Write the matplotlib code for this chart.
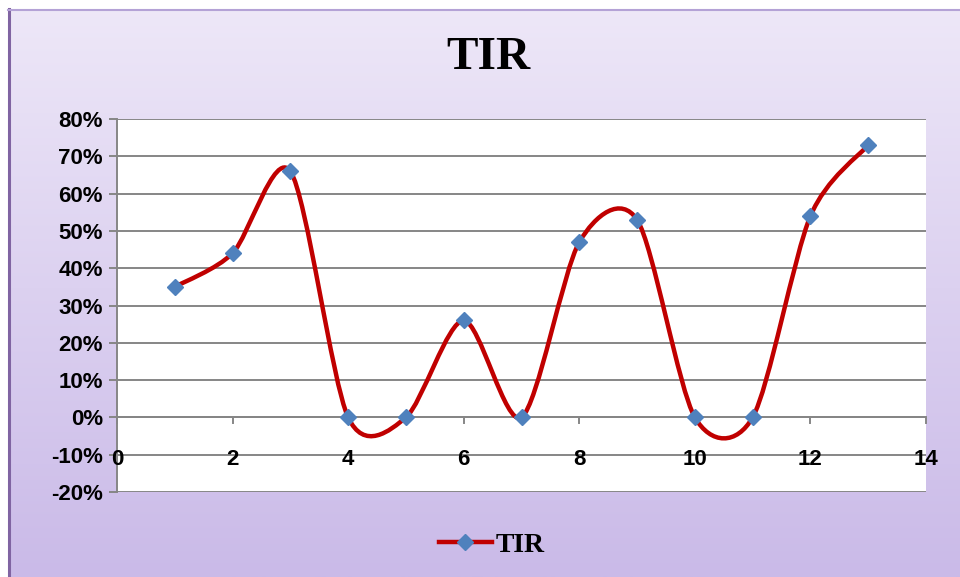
import numpy as np
import matplotlib
matplotlib.use("Agg")
import matplotlib.pyplot as plt
from matplotlib.path import Path
from matplotlib.patches import PathPatch, Rectangle
from matplotlib.lines import Line2D
from matplotlib.ticker import FuncFormatter

# --- data ---
periods = [1, 2, 3, 4, 5, 6, 7, 8, 9, 10, 11, 12, 13]
tir = [0.35, 0.44, 0.66, 0.00, 0.00, 0.26, 0.00, 0.47, 0.53, 0.00, 0.00, 0.54, 0.73]
series_name = "TIR"
chart_title = "TIR"
x_ticks = [0, 2, 4, 6, 8, 10, 12, 14]
y_ticks = [-0.2, -0.1, 0.0, 0.1, 0.2, 0.3, 0.4, 0.5, 0.6, 0.7, 0.8]

line_red = "#C00000"
marker_blue = "#4F81BD"
grid_gray = "#868686"

fig = plt.figure(figsize=(9.6, 5.77), dpi=100)

# --- gradient background with a purple frame ---
bg = fig.add_axes([0, 0, 1, 1], zorder=-10)
grad = np.linspace(0, 1, 256).reshape(-1, 1)
top = np.array([238, 232, 248]) / 255
bot = np.array([202, 186, 232]) / 255
img = top + (bot - top) * grad[:, :, None]
bg.imshow(img, aspect="auto", extent=[0, 1, 0, 1], origin="upper")
bg.add_patch(Rectangle((0, 0), 8 / 960, 1, color="white", zorder=2))
bg.add_patch(Rectangle((0, 1 - 9 / 577), 1, 9 / 577, color="white", zorder=2))
bg.plot([8.5 / 960, 8.5 / 960], [0, 1 - 9 / 577], color="#8064A2", lw=2.2, zorder=3)
bg.plot([8 / 960, 1], [1 - 9.5 / 577, 1 - 9.5 / 577], color="#B4A2D6", lw=1.5, zorder=3)
bg.set_xlim(0, 1)
bg.set_ylim(0, 1)
bg.axis("off")

# --- plot area ---
ax = fig.add_axes([117 / 960, 85 / 577, 809 / 960, 373 / 577])
ax.set_facecolor("white")
ax.set_xlim(0, 14)
ax.set_ylim(-0.2, 0.8)
ax.set_yticks(y_ticks)
ax.set_xticks(x_ticks)
ax.yaxis.set_major_formatter(FuncFormatter(lambda v, p: f"{round(v * 100):d}%"))
ax.grid(axis="y", color=grid_gray, lw=1.4)
ax.set_axisbelow(True)

for s in ["top", "right", "bottom"]:
    ax.spines[s].set_visible(False)
ax.spines["left"].set_color(grid_gray)
ax.spines["left"].set_linewidth(1.4)
ax.axhline(0, color=grid_gray, lw=1.4, zorder=1)

ax.tick_params(axis="y", length=6, width=1.4, color=grid_gray, pad=4)
ax.tick_params(axis="x", length=0, pad=0)
for lab in ax.get_yticklabels():
    lab.set_fontfamily("Liberation Sans")
    lab.set_fontweight("bold")
    lab.set_fontsize(16)
ax.set_xticklabels([])

# x tick marks below the zero line and labels further down (Excel style)
for xv in x_ticks:
    ax.plot([xv, xv], [0, -0.016], color=grid_gray, lw=1.4, clip_on=False, zorder=1)
    ax.text(xv, -0.113, str(xv), ha="center", va="center", fontsize=16,
            fontweight="bold", family="Liberation Sans", clip_on=False)

# --- smoothed line (bezier through the points, like Excel) ---
pts = np.column_stack([periods, tir]).astype(float)
ext = np.vstack([pts[0], pts, pts[-1]])
f = 0.14
verts = [tuple(pts[0])]
codes = [Path.MOVETO]
for i in range(len(pts) - 1):
    p0, p1, p2, p3 = ext[i], ext[i + 1], ext[i + 2], ext[i + 3]
    c1 = p1 + (p2 - p0) * f
    c2 = p2 - (p3 - p1) * f
    verts += [tuple(c1), tuple(c2), tuple(p2)]
    codes += [Path.CURVE4] * 3
curve = PathPatch(Path(verts, codes), fill=False, edgecolor=line_red, lw=3.2,
                  transform=ax.transData, zorder=3, capstyle="round")
ax.add_patch(curve)
ax.plot(periods, tir, linestyle="none", marker="D", ms=8.5, color=marker_blue, zorder=4)

# --- title and legend ---
fig.text(488 / 960, 1 - 58 / 577, chart_title, ha="center", va="center",
         fontsize=34, fontweight="bold", family="Liberation Serif")
handle = Line2D([], [], color=line_red, lw=3.2, marker="D", ms=8.5,
                markerfacecolor=marker_blue, markeredgecolor=marker_blue)
fig.legend([handle], [series_name], loc="center", bbox_to_anchor=(492 / 960, 32 / 577),
           frameon=False, handlelength=1.9, handletextpad=0.15,
           prop={"family": "Liberation Serif", "weight": "bold", "size": 20})

fig.savefig("out.png", dpi=100)
